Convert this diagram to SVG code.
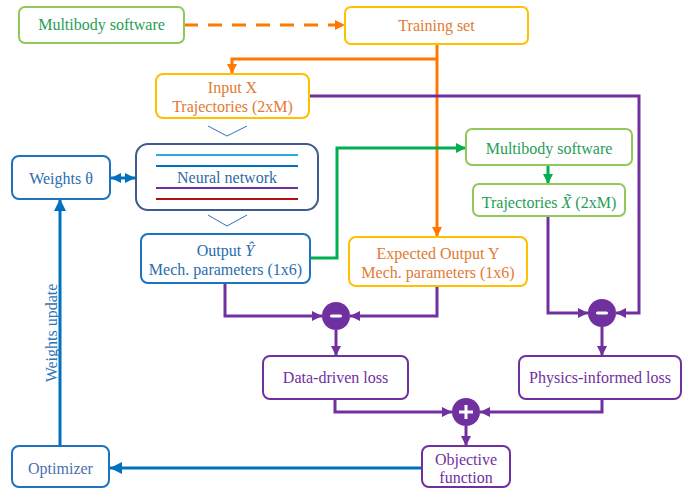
<svg xmlns="http://www.w3.org/2000/svg" width="682" height="489" viewBox="0 0 682 489">
<style>
text{font-size:16px;text-anchor:middle}
.box{fill:#fff;stroke-width:2}
.g{stroke:#92c85a}.gt{fill:#1f9e55}
.o{stroke:#ffc000}.ot{fill:#e27a33}
.b{stroke:#1e73be}.bt{fill:#2a6db0}
.p{stroke:#7030a0}.pt{fill:#7030a0}
.c{fill:none;stroke-width:3}
.co{stroke:#ff7800}.cp{stroke:#7030a0}.cg{stroke:#00b050}.cb{stroke:#0070c0}
</style>
<defs>
<marker id="ao" markerUnits="userSpaceOnUse" markerWidth="12" markerHeight="12" refX="10" refY="6" orient="auto"><path d="M0,1 L10,6 L0,11 Z" fill="#ff7800"/></marker>
<marker id="ap" markerUnits="userSpaceOnUse" markerWidth="12" markerHeight="12" refX="10" refY="6" orient="auto"><path d="M0,1 L10,6 L0,11 Z" fill="#7030a0"/></marker>
<marker id="ag" markerUnits="userSpaceOnUse" markerWidth="12" markerHeight="12" refX="10" refY="6" orient="auto"><path d="M0,1 L10,6 L0,11 Z" fill="#00b050"/></marker>
<marker id="ab" markerUnits="userSpaceOnUse" markerWidth="14" markerHeight="14" refX="12" refY="7" orient="auto"><path d="M0,1 L12,7 L0,13 Z" fill="#0070c0"/></marker>
<marker id="abs" markerUnits="userSpaceOnUse" markerWidth="12" markerHeight="12" refX="10" refY="6" orient="auto-start-reverse"><path d="M0,1 L10,6 L0,11 Z" fill="#0070c0"/></marker>
</defs>
<g id="connectors">
<line class="c co" x1="184" y1="25" x2="345" y2="25" stroke-dasharray="14 10" marker-end="url(#ao)"/>
<path class="c co" d="M437,44 V237" marker-end="url(#ao)"/>
<path class="c co" d="M437,59 H232 V74" marker-end="url(#ao)"/>
<path class="c cp" d="M309,96 H639 V313 H616" marker-end="url(#ap)"/>
<path class="c cg" d="M310,258 H337 V148 H466" marker-end="url(#ag)"/>
<path class="c cg" d="M548,165 V184" marker-end="url(#ag)"/>
<path class="c cp" d="M548,216 V313 H588" marker-end="url(#ap)"/>
<path class="c cp" d="M225,283 V316 H322" marker-end="url(#ap)"/>
<path class="c cp" d="M437,286 V316 H350" marker-end="url(#ap)"/>
<path class="c cp" d="M336,330 V356" marker-end="url(#ap)"/>
<path class="c cp" d="M602,327 V356" marker-end="url(#ap)"/>
<path class="c cp" d="M335,399 V412 H452" marker-end="url(#ap)"/>
<path class="c cp" d="M602,399 V412 H480" marker-end="url(#ap)"/>
<path class="c cp" d="M466,426 V446" marker-end="url(#ap)"/>
<path class="c cb" d="M422,468 H110" marker-end="url(#ab)"/>
<path class="c cb" d="M60,446 V199" marker-end="url(#ab)"/>
<line class="c cb" x1="111" y1="178" x2="135" y2="178" marker-start="url(#abs)" marker-end="url(#abs)"/>
<path d="M208,126 L227,136 L247,126" fill="none" stroke="#2e75b6" stroke-width="1"/>
<path d="M208,215 L227,226 L247,215" fill="none" stroke="#2e75b6" stroke-width="1"/>
</g>
<g font-family="Liberation Serif, Times New Roman, serif">
<g id="multibody1"><rect class="box g" x="19" y="7" width="165" height="36" rx="6"/><text class="gt" x="101.5" y="30">Multibody software</text></g>
<g id="training"><rect class="box o" x="345" y="7" width="183" height="37" rx="6"/><text class="ot" x="436.5" y="31">Training set</text></g>
<g id="inputx"><rect class="box o" x="156" y="74" width="153" height="44" rx="7"/><text class="ot" x="232.5" y="93">Input X</text><text class="ot" x="232.5" y="112">Trajectories (2xM)</text></g>
<g id="nn"><rect class="box" x="136" y="144" width="182" height="66" rx="12" stroke="#3f5a8c"/>
<line x1="156" y1="155" x2="298" y2="155" stroke="#29abe2" stroke-width="2"/>
<line x1="156" y1="166" x2="298" y2="166" stroke="#0070c0" stroke-width="2"/>
<line x1="156" y1="188" x2="298" y2="188" stroke="#7030a0" stroke-width="2"/>
<line x1="156" y1="199" x2="298" y2="199" stroke="#b01010" stroke-width="2"/>
<text fill="#2e6aa8" x="227" y="183">Neural network</text></g>
<g id="weights"><rect class="box b" x="12" y="156" width="98" height="43" rx="7"/><text class="bt" x="61" y="184">Weights θ</text></g>
<g id="output"><rect class="box b" x="141" y="234" width="169" height="49" rx="7"/><text class="bt" x="225.5" y="256">Output <tspan font-style="italic">Ŷ</tspan></text><text class="bt" x="225.5" y="275">Mech. parameters (1x6)</text></g>
<g id="multibody2"><rect class="box g" x="466" y="129" width="166" height="36" rx="6"/><text class="gt" x="549" y="154">Multibody software</text></g>
<g id="traj"><rect class="box g" x="473" y="184" width="152" height="32" rx="6"/><text class="gt" x="549" y="208">Trajectories <tspan font-style="italic">X̃</tspan> (2xM)</text></g>
<g id="expected"><rect class="box o" x="349" y="237" width="178" height="49" rx="7"/><text class="ot" x="438" y="259">Expected Output Y</text><text class="ot" x="438" y="278">Mech. parameters (1x6)</text></g>
<g id="minus1"><circle cx="336" cy="316" r="14" fill="#7030a0"/><rect x="330" y="314.5" width="12" height="3" rx="1.5" fill="#fff"/></g>
<g id="minus2"><circle cx="602" cy="313" r="14" fill="#7030a0"/><rect x="596" y="311.5" width="12" height="3" rx="1.5" fill="#fff"/></g>
<g id="dataloss"><rect class="box p" x="263" y="356" width="145" height="43" rx="7"/><text class="pt" x="335.5" y="383">Data-driven loss</text></g>
<g id="physloss"><rect class="box p" x="519" y="356" width="162" height="43" rx="7"/><text class="pt" x="600" y="383">Physics-informed loss</text></g>
<g id="plus"><circle cx="466" cy="412" r="14" fill="#7030a0"/><rect x="459" y="410.5" width="14" height="3" fill="#fff"/><rect x="464.5" y="405" width="3" height="14" fill="#fff"/></g>
<g id="objective"><rect class="box p" x="422" y="446" width="88" height="41" rx="7"/><text class="pt" x="466" y="465">Objective</text><text class="pt" x="466" y="483">function</text></g>
<g id="optimizer"><rect class="box b" x="12" y="446" width="97" height="41" rx="7"/><text fill="#4a6fb0" x="60.5" y="474">Optimizer</text></g>
<text fill="#2e75b6" transform="translate(57,333) rotate(-90)">Weights update</text>
</g>
</svg>
